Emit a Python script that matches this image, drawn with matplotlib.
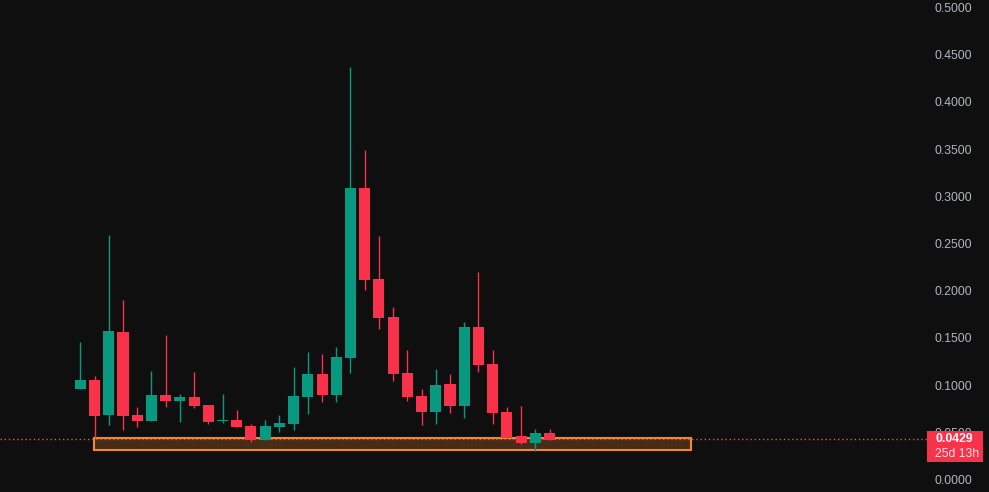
import matplotlib
matplotlib.use("Agg")
import matplotlib.pyplot as plt
from matplotlib.patches import Rectangle
from matplotlib.transforms import blended_transform_factory

# candle values
opens = [.0959, .1054, .0683, .1563, .0683, .0620, .0895, .0832, .0874, .0789, .0617, .0630, .0567, .0418, .0556, .0588, .0874,
         .1118, .0895, .1290, .3088, .2124, .1721, .1128, .0885, .0715, .1012, .0779, .1615, .1224, .0715, .0461, .0387, .0493]
closes = [.1054, .0676, .1573, .0676, .0620, .0895, .0832, .0874, .0779, .0609, .0630, .0556, .0418, .0567, .0599, .0885, .1118,
          .0895, .1298, .3088, .2113, .1711, .1118, .0874, .0715, .1001, .0779, .1615, .1213, .0704, .0440, .0387, .0493, .0418]
highs = [.1457, .1096, .2590, .1901, .0771, .1149, .1531, .0909, .1139, .0789, .0903, .0736, .0585, .0630, .0683, .1192, .1351,
         .1329, .1404, .4373, .3490, .2579, .1827, .1372, .0959, .1171, .1118, .1668, .2198, .1372, .0768, .0779, .0535, .0535]
lows = [.0959, .0440, .0577, .0524, .0559, .0620, .0771, .0609, .0761, .0591, .0602, .0556, .0400, .0418, .0506, .0524, .0694,
        .0821, .0821, .1125, .2007, .1591, .1043, .0832, .0577, .0588, .0704, .0651, .1139, .0588, .0440, .0376, .0302, .0418]

y_ticks = [0.0, 0.05, 0.1, 0.15, 0.2, 0.25, 0.3, 0.35, 0.4, 0.45, 0.5]
last_price = 0.0429
zone_left, zone_right = 0.93, 42.95
zone_bottom, zone_top = 0.0312, 0.0440

UP = "#089981"
DOWN = "#f7324a"
BG = "#0f0f0f"
ORANGE = "#f08a32"

plt.rcParams["font.family"] = ["Liberation Sans", "DejaVu Sans"]

fig = plt.figure(figsize=(9.89, 4.92), dpi=100, facecolor=BG)
ax = fig.add_axes([0, 0, 928 / 989, 1], facecolor=BG)

# support zone sits under the candles
ax.add_patch(Rectangle((zone_left, zone_bottom), zone_right - zone_left, zone_top - zone_bottom,
                       facecolor=(0.94, 0.54, 0.2, 0.25), edgecolor=ORANGE, linewidth=1.5, zorder=1))
ax.axhline(last_price, color="#f7503a", linewidth=1.0, linestyle=(0, (1, 2)), zorder=1.5)

for i in range(len(opens)):
    color = UP if closes[i] >= opens[i] else DOWN
    ax.vlines(i, lows[i], highs[i], color=color, linewidth=1.0, zorder=2)
    ax.bar(i, abs(closes[i] - opens[i]), bottom=min(opens[i], closes[i]), width=0.78, color=color, zorder=3)

ax.set_xlim(-5.647, 59.61)
ax.set_ylim(-0.01324, 0.5079)
ax.set_xticks([])
ax.yaxis.tick_right()
ax.set_yticks(y_ticks)
ax.set_yticklabels(["%.4f" % v for v in y_ticks])
ax.tick_params(axis="y", length=0, pad=5, labelsize=8.8, labelcolor="#b2b5be")
for spine in ax.spines.values():
    spine.set_visible(False)

# last price tag on the scale, it covers the 0.0500 tick label like in the platform
trans = blended_transform_factory(fig.transFigure, ax.transData)
ax.add_patch(Rectangle((927 / 989, 0.0185), 56 / 989, 0.0330, transform=trans, facecolor=DOWN,
                       edgecolor="none", clip_on=False, zorder=10))
ax.text(935 / 989, 0.0427, "0.0429", transform=trans, color="white", fontsize=8.8, fontweight="bold",
        va="center", ha="left", zorder=11)
ax.text(935 / 989, 0.0275, "25d 13h", transform=trans, color="#ffdfe3", fontsize=8.8,
        va="center", ha="left", zorder=11)

fig.savefig("out.png", dpi=100, facecolor=BG)
